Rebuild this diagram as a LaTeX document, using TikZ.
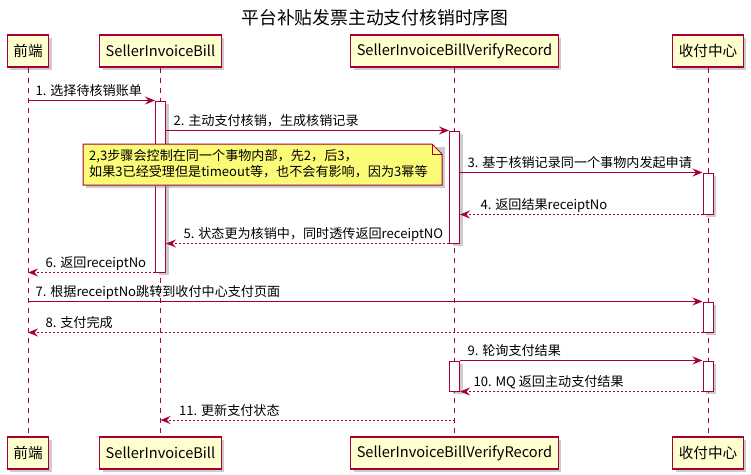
\documentclass[tikz,border=0pt]{standalone}
\usepackage{fontspec}
\setmainfont{Noto Sans CJK SC}
\usetikzlibrary{arrows.meta,shadows}
\definecolor{pred}{HTML}{A80036}
\definecolor{pbox}{HTML}{FEFECE}
\definecolor{pnote}{HTML}{FBFB77}
\begin{document}
\begin{tikzpicture}[x=1pt,y=-1pt,
  shd/.style={drop shadow={shadow xshift=3pt, shadow yshift=-3pt, fill=black!40, opacity=0.5}},
  part/.style={draw=pred, line width=1.1pt, fill=pbox, minimum height=32pt, inner xsep=6pt, inner ysep=0pt, font=\fontsize{14.6}{17}\selectfont, shd},
  lifeline/.style={draw=pred, dash pattern=on 5pt off 5pt, line width=0.9pt},
  act/.style={draw=pred, line width=1pt, fill=white, minimum width=10pt, inner sep=0pt, shd},
  msg/.style={draw=pred, line width=1pt, -{Stealth[length=10pt,width=8pt,inset=3.5pt]}},
  ret/.style={msg, dash pattern=on 2pt off 2pt},
  lbl/.style={font=\fontsize{13.1}{15}\selectfont, text=black, inner sep=0pt, anchor=base west},
  notetxt/.style={font=\fontsize{13.1}{16}\selectfont, align=left, inner sep=0pt, anchor=north west}
]
\useasboundingbox (0,0) rectangle (751,474);

\node[font=\fontsize{17.8}{20}\selectfont] (title) at (375,18) {平台补贴发票主动支付核销时序图};

% participants
\node[part] (p1t) at (28,51) {前端};
\node[part] (p2t) at (160.5,51) {SellerInvoiceBill};
\node[part] (p3t) at (454.5,51) {SellerInvoiceBillVerifyRecord};
\node[part] (p4t) at (708,51) {收付中心};
\node[part] (p1b) at (28,453) {前端};
\node[part] (p2b) at (160.5,453) {SellerInvoiceBill};
\node[part] (p3b) at (454.5,453) {SellerInvoiceBillVerifyRecord};
\node[part] (p4b) at (708,453) {收付中心};

% lifelines
\draw[lifeline] (p1t.south) -- (p1b.north);
\draw[lifeline] (p2t.south) -- (p2b.north);
\draw[lifeline] (p3t.south) -- (p3b.north);
\draw[lifeline] (p4t.south) -- (p4b.north);

% activations
\node[act, minimum height=171pt] (a1) at (160.5,186.5) {};
\node[act, minimum height=112pt] (a2) at (454.5,187) {};
\node[act, minimum height=41pt]  (a3) at (708,193.5) {};
\node[act, minimum height=30pt]  (a4) at (708,317) {};
\node[act, minimum height=30pt]  (a5) at (454.5,376) {};
\node[act, minimum height=30pt]  (a6) at (708,376) {};

% messages
\draw[msg] (p1t |- a1.north) -- (a1.north west)
  node[lbl, pos=0, xshift=7pt, yshift=5pt] {1. 选择待核销账单};
\draw[msg] (a1.east |- a2.north) -- (a2.north west)
  node[lbl, pos=0, xshift=7pt, yshift=5pt] {2. 主动支付核销，生成核销记录};
\draw[msg] (a2.east |- a3.north) -- (a3.north west)
  node[lbl, pos=0, xshift=7pt, yshift=5pt] {3. 基于核销记录同一个事物内发起申请};
\draw[ret] (a3.south west) -- (a2.east |- a3.south)
  node[lbl, pos=1, xshift=20pt, yshift=5pt] {4. 返回结果receiptNo};
\draw[ret] (a2.south west) -- (a1.east |- a2.south)
  node[lbl, pos=1, xshift=17pt, yshift=5pt] {5. 状态更为核销中，同时透传返回receiptNO};
\draw[ret] (a1.south west) -- (p1t |- a1.south)
  node[lbl, pos=1, xshift=17pt, yshift=5pt] {6. 返回receiptNo};
\draw[msg] (p1t |- a4.north) -- (a4.north west)
  node[lbl, pos=0, xshift=7pt, yshift=5pt] {7. 根据receiptNo跳转到收付中心支付页面};
\draw[ret] (a4.south west) -- (p1t |- a4.south)
  node[lbl, pos=1, xshift=17pt, yshift=5pt] {8. 支付完成};
\draw[msg] (a5.north east) -- (a6.north west)
  node[lbl, pos=0, xshift=7pt, yshift=5pt] {9. 轮询支付结果};
\draw[ret] (a6.south west) -- (a5.south east)
  node[lbl, pos=1, xshift=13pt, yshift=5pt] {10. MQ 返回主动支付结果};
\coordinate (m11) at (454.5,420);
\draw[ret] (m11) -- (p2t |- m11)
  node[lbl, pos=1, xshift=18pt, yshift=5pt] {11. 更新支付状态};

% note
\coordinate (nNW) at (83,144);
\coordinate (nSE) at (442,185);
\fill[black!40, opacity=0.5] ([shift={(3,3)}]nNW) -- ([shift={(3,3)}]nNW -| nSE) -- ([shift={(3,3)}]nSE) -- ([shift={(3,3)}]nSE -| nNW) -- cycle;
\draw[draw=pred, line width=1pt, fill=pnote]
  (nNW) -- ([xshift=-10pt]nNW -| nSE) -- ([yshift=-10pt]nNW -| nSE) -- (nSE) -- (nSE -| nNW) -- cycle;
\draw[draw=pred, line width=1pt]
  ([xshift=-10pt]nNW -| nSE) -- ([xshift=-10pt, yshift=-10pt]nNW -| nSE) -- ([yshift=-10pt]nNW -| nSE);
\node[notetxt] (note) at ([shift={(6,5)}]nNW) {2,3步骤会控制在同一个事物内部，先2，后3，\\如果3已经受理但是timeout等，也不会有影响，因为3幂等};
\end{tikzpicture}
\end{document}
